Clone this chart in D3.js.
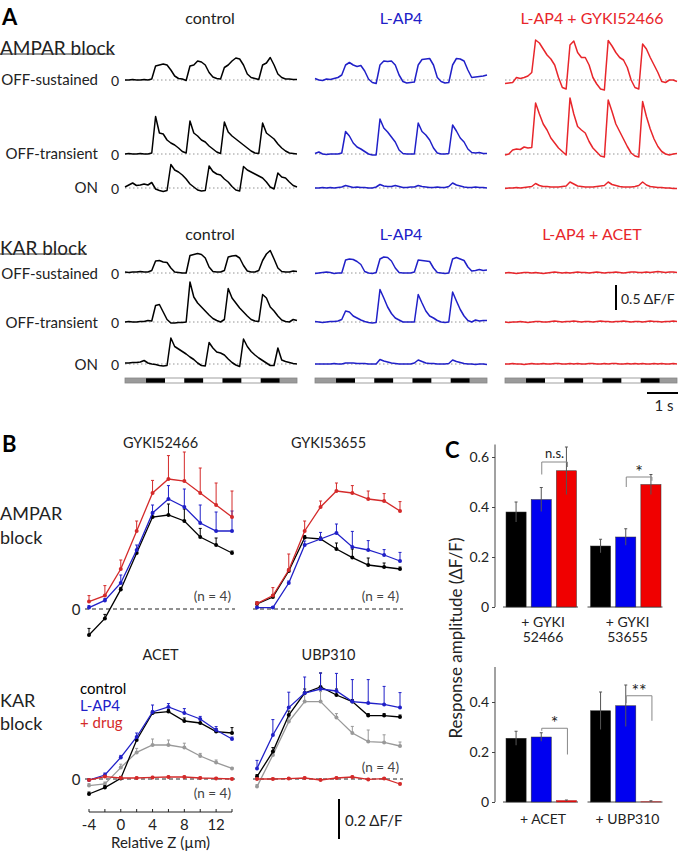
<!DOCTYPE html>
<html><head><meta charset="utf-8">
<script src="https://cdn.jsdelivr.net/npm/d3@7"></script>
<style>
body{margin:0;background:#fff}
svg text{font-family:Lato,"Open Sans",sans-serif;fill:#222}
</style></head>
<body><svg id="fig" width="678" height="852"></svg>
<script>
// ================= DATA =================
// Panel A traces: ΔF/F sampled every 0.1 s from 0 to 4.5 s
const sampleStep = 0.1;
const ampCtrlSus  = [0,0,0.01,0,0,0.01,0,0.02,0.28,0.30,0.32,0.30,0.20,0.08,0.03,0.02,-0.01,0.28,0.30,0.38,0.36,0.30,0.15,0.06,0.03,0.02,0.25,0.30,0.38,0.44,0.42,0.30,0.12,0.05,0.03,0.01,0.30,0.34,0.45,0.30,0.12,0.05,0.02,0.02,0.01,0.01];
const ampCtrlTrans= [0,0.01,0,0,0.01,0,0,0.02,0.75,0.42,0.40,0.28,0.22,0.18,0.12,0.05,0.02,0.66,0.42,0.36,0.28,0.24,0.16,0.10,0.04,0.01,0.64,0.44,0.36,0.30,0.24,0.18,0.12,0.06,0.02,0.01,0.62,0.42,0.36,0.30,0.20,0.12,0.06,0.02,0.01,0];
const ampCtrlOn   = [0.02,0.06,0.10,0.05,0.06,0.08,0.06,0.11,-0.02,-0.05,-0.07,-0.05,0.47,0.36,0.32,0.26,0.18,0.08,0.02,-0.04,-0.06,-0.05,0.44,0.33,0.28,0.26,0.18,0.12,0.03,-0.04,-0.06,0.43,0.36,0.32,0.28,0.24,0.20,0.12,0.02,-0.02,0.30,0.22,0.20,0.12,0.05,0.02];
const ampLap4Sus  = [0.03,0,-0.01,0.02,0.01,0.03,0.05,0.10,0.30,0.35,0.30,0.27,0.29,0.18,0.02,-0.05,-0.07,0.30,0.38,0.37,0.38,0.30,0.10,-0.03,-0.06,-0.05,-0.04,0.30,0.41,0.42,0.43,0.30,0.05,-0.03,-0.06,-0.05,0.30,0.43,0.42,0.38,0.20,0.05,0.06,0.07,0.08,0.10];
const ampLap4Trans= [0.01,0.04,0,-0.01,0,0,0,0.02,0.45,0.36,0.22,0.14,0.10,0.05,0,-0.02,-0.02,0.70,0.52,0.44,0.34,0.24,0.08,0.01,0,0,0,0.62,0.45,0.38,0.28,0.12,0.02,0,0,0.01,0.58,0.46,0.32,0.24,0.10,0.03,0.02,0.03,0.01,0.01];
const ampLap4On   = [0,0,0.01,0,0.01,0,0.01,0.02,0.05,0.03,0.01,0.02,0.01,0.01,0,0,0.02,0.07,0.04,0.03,0.03,0.05,0.03,0.01,0.01,0.02,0.02,0.05,0.03,0.02,0.01,0.01,0.02,0.01,0.01,0.03,0.10,0.06,0.04,0.02,0.01,0.01,0.02,0.01,0.01,0];
const ampDrugSus  = [-0.07,-0.06,-0.05,0.05,0.03,0.05,0.08,0.15,0.80,0.74,0.62,0.50,0.42,0.30,0.05,-0.15,-0.18,0.70,0.78,0.55,0.45,0.45,0.30,0.05,-0.08,-0.18,-0.20,0.79,0.68,0.55,0.45,0.40,0.25,0,-0.15,-0.18,0.72,0.62,0.45,0.30,0.15,-0.03,-0.05,0,0,-0.03];
const ampDrugTrans= [-0.02,0,0.08,0.10,0.09,0.14,0.12,0.13,1.02,0.80,0.60,0.48,0.32,0.22,0.12,0.05,-0.02,1.12,0.80,0.55,0.48,0.42,0.25,0.12,0.04,-0.04,-0.06,1.08,0.85,0.60,0.45,0.30,0.15,0.02,-0.04,-0.06,1.05,0.75,0.50,0.30,0.15,0.05,0,-0.02,0,0.01];
const ampDrugOn   = [-0.01,0,0,0.01,0,0.01,0.02,0.03,0.09,0.05,0.03,0.03,0.02,0.02,0.02,0.03,0.04,0.12,0.08,0.04,0.03,0.02,0.02,0.02,0.03,0.04,0.05,0.12,0.07,0.05,0.03,0.02,0.02,0.02,0.03,0.05,0.12,0.06,0.03,0.02,0.01,0.01,0,0,-0.01,-0.01];
const karCtrlSus  = [0.02,0.01,0.02,0.02,0.03,0.02,0.02,0.05,0.24,0.25,0.22,0.21,0.10,0.02,0.01,0,0,0.35,0.37,0.39,0.37,0.30,0.12,0.03,0.02,0.02,0.05,0.32,0.34,0.35,0.30,0.15,0.04,0.02,0.02,0.05,0.25,0.38,0.45,0.28,0.10,0.03,0.02,0.02,0.04,0.03];
const karCtrlTrans= [0,0.01,0,0,0.01,0.01,0.03,0.02,0.33,0.35,0.20,0.05,-0.02,-0.02,-0.01,-0.01,0,0.80,0.50,0.38,0.30,0.22,0.14,0.07,0.03,0,0.05,0.67,0.48,0.38,0.28,0.20,0.12,0.05,0.02,0.01,0.55,0.48,0.30,0.22,0.12,0.04,0.01,0,0.05,0.03];
const karCtrlOn   = [0.02,0.02,0.03,0.03,0.04,0.07,0.02,0,-0.01,-0.03,-0.04,-0.03,0.52,0.35,0.30,0.25,0.20,0.14,0.09,0.02,-0.03,-0.04,0.43,0.32,0.24,0.22,0.18,0.10,0.03,-0.02,-0.05,0.50,0.35,0.25,0.18,0.12,0.07,0.02,-0.03,-0.03,0.32,0.08,0.05,0.03,0.01,0];
const karLap4Sus  = [-0.01,0,0.01,0.02,0.01,-0.01,0,0,0.26,0.28,0.27,0.23,0.17,0.03,0,-0.01,0.01,0.28,0.32,0.31,0.24,0.10,0.01,0,0,0,0.02,0.26,0.25,0.24,0.23,0.10,0.01,0,-0.01,0,0.28,0.31,0.28,0.25,0.12,0.04,0.05,0.07,0.05,0.06];
const karLap4Trans= [0.01,0,-0.01,0,0.01,0.01,0.02,0.05,0.22,0.20,0.12,0.08,0.04,0.01,-0.01,-0.02,-0.01,0.65,0.48,0.30,0.17,0.08,0.04,0,0,0,0,0.55,0.38,0.22,0.12,0.08,0.03,0,-0.01,0,0.60,0.42,0.25,0.12,0.03,0,0.04,0.02,0.03,0.03];
const karLap4On   = [0,0,0,0,0,0.01,0,0,0.02,0.02,0.02,0.01,0.01,0.01,0,0,0,0.09,0.06,0.04,0.02,0.01,0,0,0,0,0.02,0.08,0.05,0.02,0.01,0.01,0,0,0,0.01,0.08,0.05,0.03,0.01,0,0,-0.01,0,0,-0.01];
const karDrugSus  = [0,0.01,0,-0.01,0,0.01,0.01,0,0.01,0,-0.01,0,0.01,0.02,0.01,0,0.01,0,0.01,0.02,0.01,0.01,0,0.01,0.02,0.01,0,0.01,0.01,0.02,0.01,0,0.01,0.02,0.02,0.01,0.01,0.02,0.01,0.02,0.03,0.02,0.01,0.02,0.02,0.01];
const karDrugTrans= [0,-0.01,0,0,0.01,0,-0.01,0,0.01,0.01,0,0,0.01,0.02,0.01,0,0.01,0.01,0.02,0.01,0,0.01,0.01,0,0.01,0.02,0.01,0.01,0,0.01,0.01,0.02,0.01,0,0.01,0.01,0,0.01,0.02,0.01,0.01,0,0.01,0.01,0.02,0.01];
const karDrugOn   = [0,0,0.01,0,0,-0.01,0,0.01,0,0,0.01,0,0,0.01,0.01,0,0,0.01,0,0.01,0,0,0.01,0.01,0,0,0.01,0,0.01,0.01,0,0,0.01,0,0.01,0,0.01,0,0,0.01,0,0.01,0,0,0.01,0];
const stimShades  = ["gray","black","white","black","white","black","white","black","gray"];
const stimDur     = [0.55,0.5,0.5,0.5,0.5,0.5,0.5,0.5,0.45];

// Panel B: relative Z (µm) and ΔF/F
const zPos = [-4,-2,0,2,4,6,8,10,12,14];
const g52Ctrl = [-0.13,-0.047,0.098,0.28,0.46,0.47,0.44,0.36,0.32,0.28];
const g52CtrlErr = [0.033,0.02,0.01,0.01,0.025,0.055,0.06,0.043,0.035,0.01];
const g52Lap4 = [0.007,0.043,0.13,0.295,0.48,0.55,0.51,0.43,0.39,0.39];
const g52Lap4Err = [0.01,0.01,0.04,0.025,0.04,0.067,0.09,0.09,0.095,0.1];
const g52Drug = [0.037,0.067,0.2,0.39,0.58,0.65,0.64,0.58,0.52,0.46];
const g52DrugErr = [0.03,0.05,0.045,0.05,0.063,0.117,0.145,0.125,0.11,0.13];
const g53Ctrl = [0.025,0.06,0.19,0.357,0.35,0.3,0.257,0.22,0.21,0.2];
const g53CtrlErr = [0.01,0.01,0.01,0.01,0.01,0.03,0.043,0.035,0.02,0.01];
const g53Lap4 = [0.007,0.007,0.13,0.32,0.35,0.38,0.31,0.295,0.27,0.24];
const g53Lap4Err = [0.005,0.005,0.01,0.02,0.033,0.045,0.078,0.047,0.027,0.043];
const g53Drug = [0.027,0.067,0.195,0.39,0.51,0.59,0.58,0.55,0.54,0.49];
const g53DrugErr = [0.01,0.04,0.08,0.05,0.03,0.04,0.037,0.04,0.037,0.047];
const acetCtrl = [-0.075,-0.043,0.003,0.195,0.33,0.337,0.29,0.28,0.237,0.23];
const acetCtrlErr = [0.01,0.01,0.01,0.015,0.01,0.01,0.015,0.02,0.015,0.027];
const acetLap4 = [-0.005,0.02,0.108,0.21,0.335,0.36,0.33,0.3,0.245,0.2];
const acetLap4Err = [0.005,0.01,0.01,0.02,0.035,0.017,0.022,0.013,0.017,0.01];
const acetGray = [-0.033,-0.025,0.057,0.133,0.17,0.17,0.157,0.115,0.082,0.053];
const acetGrayErr = [0.01,0.01,0.017,0.02,0.03,0.025,0.022,0.013,0.013,0.005];
const acetDrug = [-0.005,0.012,0.005,0.005,0.008,0.01,0.01,0.005,0.003,0];
const acetDrugErr = [0.005,0.005,0.005,0.005,0.005,0.005,0.005,0.005,0.005,0.005];
const ubpCtrl = [0.012,0.137,0.32,0.43,0.46,0.42,0.387,0.317,0.317,0.31];
const ubpCtrlErr = [0.01,0.02,0.02,0.02,0.07,0.03,0.01,0.01,0.01,0.01];
const ubpLap4 = [0.053,0.22,0.357,0.43,0.45,0.44,0.387,0.38,0.373,0.357];
const ubpLap4Err = [0.04,0.077,0.077,0.08,0.08,0.088,0.11,0.117,0.09,0.075];
const ubpGray = [-0.038,0.12,0.287,0.387,0.387,0.307,0.23,0.187,0.183,0.165];
const ubpGrayErr = [0.01,0.02,0.02,0.04,0.05,0.02,0.033,0.058,0.038,0.02];
const ubpDrug = [0,0,0.002,0.005,-0.005,0.005,0.01,-0.002,0.002,-0.025];
const ubpDrugErr = [0.005,0.005,0.005,0.005,0.005,0.005,0.005,0.005,0.005,0.005];
const zTickLabels = [-4,0,4,8,12];

// Panel C: response amplitude (ΔF/F)
const ampaGroups = ["+ GYKI|52466","+ GYKI|53655"];
const ampaCtrl = [0.38,0.244], ampaCtrlErr = [0.04,0.027];
const ampaLap4 = [0.43,0.28],  ampaLap4Err = [0.048,0.033];
const ampaDrug = [0.545,0.49], ampaDrugErr = [0.095,0.04];
const ampaSig  = ["n.s.","*"];
const karGroups = ["+ ACET","+ UBP310"];
const karCtrl = [0.255,0.365], karCtrlErr = [0.028,0.075];
const karLap4 = [0.26,0.385],  karLap4Err = [0.017,0.083];
const karDrug = [0.006,0.001], karDrugErr = [0.002,0.004];
const karSig  = ["*","**"];
const ampaTicks = [0,0.2,0.4,0.6], karTicks = [0,0.2,0.4];

// ================= DRAWING =================
const svg = d3.select("#fig");
const BLUE = "#2020c8", RED = "#e8262b", DRED = "#d42a2a", GRAY = "#999";

function txt(x, y, s, opt = {}) {
  return svg.append("text").attr("x", x).attr("y", y).text(s)
    .attr("font-size", opt.size || 15).attr("text-anchor", opt.anchor || "start")
    .attr("dominant-baseline", "central")
    .attr("font-weight", opt.weight || "normal")
    .style("fill", opt.color || "#222");
}

// ---- Panel A ----
txt(2, 16, "A", {size: 22, weight: "bold", color: "#000"});
const colX = [125, 315, 505];
const traceW = 172;
const tScale = x0 => d3.scaleLinear().domain([0, 4.5]).range([x0, x0 + traceW]);
const ampScale = base => d3.scaleLinear().domain([0, 1]).range([base, base - 50]);

function trace(vals, col, base, color) {
  const x = tScale(colX[col]), y = ampScale(base);
  svg.append("line").attr("x1", x(0)).attr("x2", x(4.5)).attr("y1", y(0)).attr("y2", y(0))
    .attr("stroke", "#888").attr("stroke-width", 0.9).attr("stroke-dasharray", "1.5,2.5");
  svg.append("path").attr("d", d3.line().x((d, i) => x(i * sampleStep)).y(d => y(d))(vals))
    .attr("fill", "none").attr("stroke", color).attr("stroke-width", 1.5).attr("stroke-linejoin", "round");
}

const titleY1 = 17, titleY2 = 233;
txt(210, titleY1, "control", {size: 16, anchor: "middle"});
txt(401, titleY1, "L-AP4", {size: 16, anchor: "middle", color: BLUE});
txt(592, titleY1, "L-AP4 + GYKI52466", {size: 16, anchor: "middle", color: RED});
txt(210, titleY2, "control", {size: 16, anchor: "middle"});
txt(401, titleY2, "L-AP4", {size: 16, anchor: "middle", color: BLUE});
txt(592, titleY2, "L-AP4 + ACET", {size: 16, anchor: "middle", color: RED});

txt(0, 47, "AMPAR block", {size: 19});
svg.append("line").attr("x1", 0).attr("x2", 113).attr("y1", 54).attr("y2", 54).attr("stroke", "#333").attr("stroke-width", 1);
txt(0, 247, "KAR block", {size: 19});
svg.append("line").attr("x1", 0).attr("x2", 87).attr("y1", 254).attr("y2", 254).attr("stroke", "#333").attr("stroke-width", 1);

const ampBases = [80, 154, 188], karBases = [273, 322, 364];
const rowNames = ["OFF-sustained", "OFF-transient", "ON"];
ampBases.forEach((b, i) => { txt(98, b - 1, rowNames[i], {size: 15, anchor: "end"}); txt(115, b, "0", {size: 14, anchor: "middle"}); });
karBases.forEach((b, i) => { txt(98, b, rowNames[i], {size: 15, anchor: "end"}); txt(115, b, "0", {size: 14, anchor: "middle"}); });

[[ampCtrlSus, ampCtrlTrans, ampCtrlOn], [ampLap4Sus, ampLap4Trans, ampLap4On], [ampDrugSus, ampDrugTrans, ampDrugOn]]
  .forEach((set, c) => set.forEach((v, r) => trace(v, c, ampBases[r], ["#000", BLUE, RED][c])));
[[karCtrlSus, karCtrlTrans, karCtrlOn], [karLap4Sus, karLap4Trans, karLap4On], [karDrugSus, karDrugTrans, karDrugOn]]
  .forEach((set, c) => set.forEach((v, r) => trace(v, c, karBases[r], ["#000", BLUE, RED][c])));

// stimulus bars
const shadeColor = {gray: "#9a9a9a", black: "#000", white: "#fff"};
colX.forEach((x0, c) => {
  const x = tScale(x0);
  let t = 0;
  stimShades.forEach((s, i) => {
    svg.append("rect").attr("x", x(t)).attr("y", 378).attr("width", x(t + stimDur[i]) - x(t)).attr("height", 5)
      .attr("fill", shadeColor[s]);
    t += stimDur[i];
  });
  svg.append("rect").attr("x", x(0)).attr("y", 378).attr("width", traceW).attr("height", 5)
    .attr("fill", "none").attr("stroke", "#888").attr("stroke-width", 0.8);
});
// scale bars A
{
  const y = ampScale(310);
  svg.append("line").attr("x1", 616).attr("x2", 616).attr("y1", y(0)).attr("y2", y(0.5)).attr("stroke", "#000").attr("stroke-width", 2);
  txt(621, 298, "0.5 ΔF/F", {size: 14});
  const x = tScale(647);
  svg.append("line").attr("x1", x(0)).attr("x2", x(1)).attr("y1", 393).attr("y2", 393).attr("stroke", "#000").attr("stroke-width", 2);
  txt(664, 405, "1 s", {size: 15, anchor: "middle"});
}

// ---- Panel B ----
txt(2, 443, "B", {size: 22, weight: "bold", color: "#000"});
const bPlots = [
  {x0: 89, zero: 609, title: "GYKI52466", nY: 596, series: [[g52Ctrl, g52CtrlErr, "#000"], [g52Lap4, g52Lap4Err, BLUE], [g52Drug, g52DrugErr, DRED]]},
  {x0: 257, zero: 609, title: "GYKI53655", nY: 596, series: [[g53Ctrl, g53CtrlErr, "#000"], [g53Lap4, g53Lap4Err, BLUE], [g53Drug, g53DrugErr, DRED]]},
  {x0: 89, zero: 779, title: "ACET", nY: 793, series: [[acetGray, acetGrayErr, GRAY], [acetCtrl, acetCtrlErr, "#000"], [acetLap4, acetLap4Err, BLUE], [acetDrug, acetDrugErr, DRED]]},
  {x0: 257, zero: 779, title: "UBP310", nY: 767, series: [[ubpGray, ubpGrayErr, GRAY], [ubpCtrl, ubpCtrlErr, "#000"], [ubpLap4, ubpLap4Err, BLUE], [ubpDrug, ubpDrugErr, DRED]]}
];
const bTitleY = [442, 442, 654, 654];
bPlots.forEach((p, k) => {
  const x = d3.scaleLinear().domain([-4, 14]).range([p.x0, p.x0 + 143]);
  const y = d3.scaleLinear().domain([0, 1]).range([p.zero, p.zero - 200]);
  txt(x(5), bTitleY[k], p.title, {size: 14.5, anchor: "middle"});
  svg.append("line").attr("x1", x(-4) - 4).attr("x2", x(14) + 3).attr("y1", y(0)).attr("y2", y(0))
    .attr("stroke", "#222").attr("stroke-width", 1).attr("stroke-dasharray", "4,3");
  if (p.x0 === 89) txt(76, y(0), "0", {size: 15, anchor: "middle"});
  txt(x(14) - 1, p.nY, "(n = 4)", {size: 13.5, anchor: "end", color: "#444"});
  p.series.forEach(([vals, err, col]) => {
    const g = svg.append("g");
    vals.forEach((v, i) => {
      const xx = x(zPos[i]);
      g.append("line").attr("x1", xx).attr("x2", xx).attr("y1", y(v)).attr("y2", y(v + err[i])).attr("stroke", col).attr("stroke-width", 1);
      g.append("line").attr("x1", xx - 1.5).attr("x2", xx + 1.5).attr("y1", y(v + err[i])).attr("y2", y(v + err[i])).attr("stroke", col).attr("stroke-width", 1);
    });
    g.append("path").attr("d", d3.line().x((d, i) => x(zPos[i])).y(d => y(d))(vals))
      .attr("fill", "none").attr("stroke", col).attr("stroke-width", 1.3);
    g.selectAll("circle.m").data(vals).enter().append("circle")
      .attr("cx", (d, i) => x(zPos[i])).attr("cy", d => y(d)).attr("r", 2).attr("fill", col);
  });
  if (k === 2) {
    const ax = svg.append("g").attr("transform", "translate(0,812)");
    ax.append("line").attr("x1", x(-4)).attr("x2", x(14)).attr("y1", 0).attr("y2", 0).attr("stroke", "#222").attr("stroke-width", 1);
    zPos.forEach(z => ax.append("line").attr("x1", x(z)).attr("x2", x(z)).attr("y1", 0).attr("y2", -3).attr("stroke", "#222"));
    zTickLabels.forEach(z => txt(x(z), 824, z < 0 ? "-" + Math.abs(z) : String(z), {size: 15, anchor: "middle"}));
    txt(x(5), 842, "Relative Z (µm)", {size: 15, anchor: "middle"});
  }
});
txt(0, 513, "AMPAR", {size: 18});
txt(0, 537, "block", {size: 18});
txt(0, 700, "KAR", {size: 18});
txt(0, 723, "block", {size: 18});
txt(80, 688, "control", {size: 15, color: "#000"});
txt(80, 705, "L-AP4", {size: 15, color: BLUE});
txt(80, 722, "+ drug", {size: 15, color: DRED});
svg.append("line").attr("x1", 339).attr("x2", 339).attr("y1", 799).attr("y2", 839).attr("stroke", "#000").attr("stroke-width", 2);
txt(345, 820, "0.2 ΔF/F", {size: 15});

// ---- Panel C ----
txt(445, 449, "C", {size: 22, weight: "bold", color: "#000"});
txt(455, 638, "Response amplitude (ΔF/F)", {size: 17, anchor: "middle"}).attr("transform", "rotate(-90,455,638)");
const xGroup = d3.scaleBand().domain([0, 1]).range([499, 668]);
const xInner = d3.scaleBand().domain([0, 1, 2]).range([7, 77.5]).paddingInner(0.2);
const barColors = ["#000", "#0000f0", "#f00000"];

function barPanel(zeroY, top, ticks, groups, series, errs, sig, sigGeom, labelY) {
  const y = d3.scaleLinear().domain([0, top]).range([zeroY, zeroY - top * 250]);
  const ax = svg.append("g").attr("transform", "translate(495,0)")
    .call(d3.axisLeft(y).tickValues(ticks).tickSize(3).tickFormat(d => d === 0 ? "0" : d3.format(".1f")(d)));
  ax.selectAll("path,line").attr("stroke", "#444");
  ax.select(".domain").attr("d", `M0,${y(top)}V${y(0)}`);
  ax.selectAll("text").attr("font-size", 14).style("font-family", "Lato,'Open Sans',sans-serif").style("fill", "#222");
  groups.forEach((gname, gi) => {
    const gx = xGroup(gi);
    svg.append("line").attr("x1", gx + 4).attr("x2", gx + 79).attr("y1", y(0)).attr("y2", y(0)).attr("stroke", "#444");
    series.forEach((vals, si) => {
      const bx = gx + xInner(si), bw = xInner.bandwidth();
      svg.append("rect").attr("x", bx).attr("y", y(vals[gi])).attr("width", bw).attr("height", y(0) - y(vals[gi]))
        .attr("fill", barColors[si]).attr("stroke", vals[gi] < 0.02 ? "#a33" : "#333").attr("stroke-width", 0.5);
      const e = errs[si][gi], cx = bx + bw / 2;
      svg.append("line").attr("x1", cx).attr("x2", cx).attr("y1", y(Math.max(0, vals[gi] - e))).attr("y2", y(vals[gi] + e))
        .attr("stroke", "#555").attr("stroke-width", 1);
      svg.append("line").attr("x1", cx - 1.5).attr("x2", cx + 1.5).attr("y1", y(vals[gi] + e)).attr("y2", y(vals[gi] + e))
        .attr("stroke", "#555").attr("stroke-width", 1);
    });
    // significance bracket between L-AP4 and drug bars
    const [yl, yt, yr] = sigGeom[gi];
    const x1 = gx + xInner(1) + xInner.bandwidth() / 2 + 0.5, x2 = gx + xInner(2) + xInner.bandwidth() / 2 + 1;
    svg.append("path").attr("d", `M${x1},${y(yl)}V${y(yt)}H${x2}V${y(yr)}`).attr("fill", "none").attr("stroke", "#888").attr("stroke-width", 1);
    const isNs = sig[gi] === "n.s.";
    txt((x1 + x2) / 2, y(yt) - (isNs ? 9 : 6), sig[gi], {size: isNs ? 13 : 18, anchor: "middle"});
    const parts = gname.split("|");
    parts.forEach((p, pi) => txt(gx + 44, labelY + pi * 15.5, p, {size: 14, anchor: "middle"}));
  });
}
barPanel(607, 0.65, ampaTicks, ampaGroups, [ampaCtrl, ampaLap4, ampaDrug], [ampaCtrlErr, ampaLap4Err, ampaDrugErr], ampaSig,
  [[0.53, 0.58, 0.56], [0.48, 0.52, 0.505]], 621);
barPanel(802, 0.54, karTicks, karGroups, [karCtrl, karLap4, karDrug], [karCtrlErr, karLap4Err, karDrugErr], karSig,
  [[0.285, 0.295, 0.19], [0.395, 0.425, 0.325]], 818);
</script></body></html>
